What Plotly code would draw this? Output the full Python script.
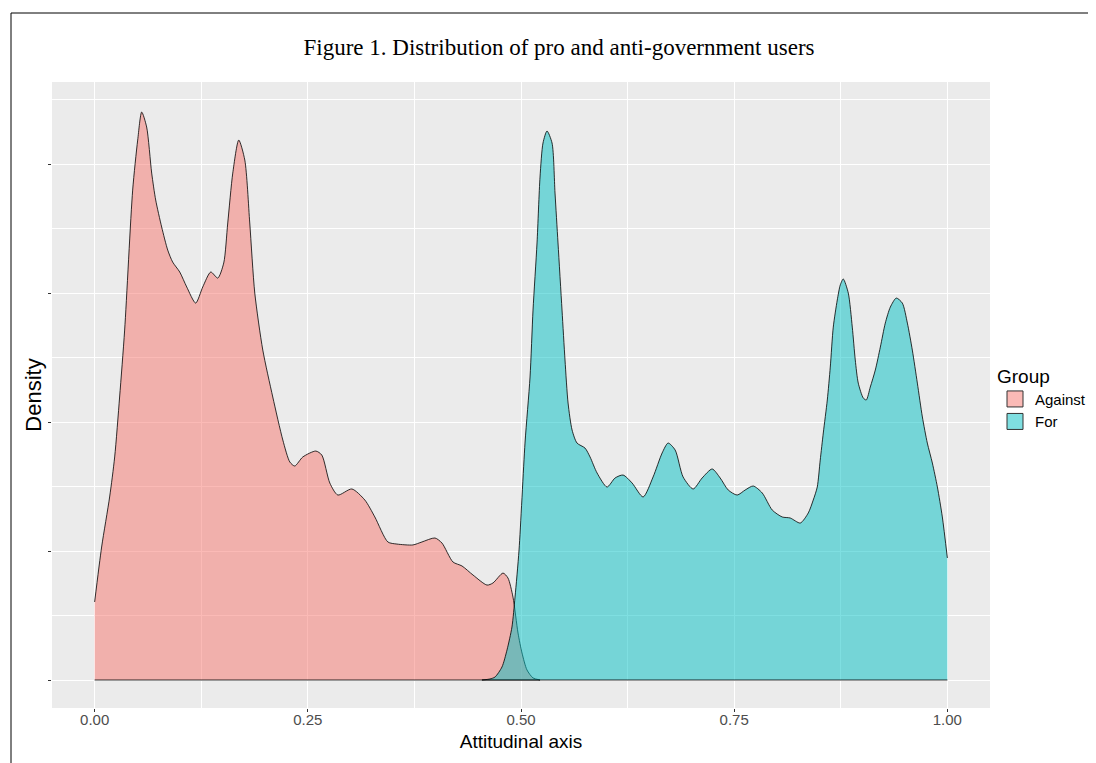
import plotly.graph_objects as go

# Density curves
against_x = [0.000, 0.0082, 0.0176, 0.0235, 0.0293, 0.0352, 0.0446, 0.0505, 0.0552, 0.0610,
             0.0669, 0.0716, 0.0786, 0.0857, 0.0915, 0.0998, 0.1080, 0.1185, 0.1268, 0.1362,
             0.1444, 0.1514, 0.1561, 0.1620, 0.1690, 0.1761, 0.1819, 0.1878, 0.1972, 0.2089,
             0.2207, 0.2289, 0.2347, 0.2441, 0.2594, 0.2664, 0.2758, 0.2852, 0.3016, 0.3169,
             0.3286, 0.3439, 0.3545, 0.3732, 0.3838, 0.3991, 0.4073, 0.4202, 0.4308, 0.4437,
             0.4601, 0.4671, 0.4789, 0.4847, 0.4906, 0.4965, 0.5012, 0.5070, 0.5141, 0.5223]
against_y = [0.605, 1.031, 1.419, 1.729, 2.194, 2.713, 3.798, 4.186, 4.403, 4.287,
             3.930, 3.721, 3.512, 3.333, 3.240, 3.163, 3.047, 2.922, 3.047, 3.163,
             3.116, 3.233, 3.543, 3.930, 4.186, 4.031, 3.543, 3.000, 2.558, 2.194,
             1.860, 1.690, 1.659, 1.729, 1.775, 1.744, 1.527, 1.434, 1.481, 1.395,
             1.264, 1.070, 1.054, 1.047, 1.070, 1.101, 1.062, 0.915, 0.884, 0.814,
             0.736, 0.752, 0.829, 0.791, 0.643, 0.364, 0.209, 0.078, 0.016, 0.000]

for_x = [0.4542, 0.4636, 0.4695, 0.4777, 0.4836, 0.4894, 0.4930, 0.4977, 0.5047, 0.5106,
         0.5141, 0.5188, 0.5223, 0.5258, 0.5305, 0.5364, 0.5399, 0.5434, 0.5481, 0.5516,
         0.5552, 0.5599, 0.5657, 0.5751, 0.5810, 0.5892, 0.6009, 0.6103, 0.6197, 0.6303,
         0.6432, 0.6549, 0.6655, 0.6725, 0.6808, 0.6901, 0.7019, 0.7124, 0.7242, 0.7336,
         0.7430, 0.7535, 0.7629, 0.7723, 0.7829, 0.7946, 0.8063, 0.8157, 0.8275, 0.8369,
         0.8427, 0.8474, 0.8509, 0.8545, 0.8592, 0.8627, 0.8662, 0.8709, 0.8744, 0.8779,
         0.8838, 0.8885, 0.8920, 0.8955, 0.9014, 0.9049, 0.9096, 0.9155, 0.9214, 0.9272,
         0.9331, 0.9401, 0.9472, 0.9531, 0.9589, 0.9648, 0.9707, 0.9765, 0.9824, 0.9883,
         0.9941, 1.0000]
for_y = [0.000, 0.008, 0.023, 0.101, 0.233, 0.411, 0.643, 1.008, 1.837, 2.349,
         2.868, 3.388, 3.899, 4.163, 4.256, 4.163, 3.775, 3.388, 2.868, 2.481,
         2.147, 1.938, 1.837, 1.798, 1.729, 1.605, 1.496, 1.566, 1.589, 1.527,
         1.419, 1.574, 1.760, 1.837, 1.783, 1.574, 1.481, 1.566, 1.636, 1.566,
         1.473, 1.434, 1.473, 1.504, 1.450, 1.318, 1.264, 1.256, 1.217, 1.295,
         1.395, 1.496, 1.705, 1.915, 2.171, 2.426, 2.736, 2.946, 3.062, 3.109,
         3.000, 2.736, 2.481, 2.302, 2.186, 2.171, 2.271, 2.403, 2.581, 2.767,
         2.891, 2.961, 2.922, 2.767, 2.558, 2.302, 2.039, 1.837, 1.682, 1.496,
         1.264, 0.946]

groups = ["Against", "For"]
x_ticks = [0.0, 0.25, 0.5, 0.75, 1.0]
x_tick_labels = ["0.00", "0.25", "0.50", "0.75", "1.00"]
y_ticks = [0, 1, 2, 3, 4]

fills = ["rgba(248,118,109,0.5)", "rgba(0,191,196,0.5)"]

fig = go.Figure()
for name, xs, ys, fc in [(groups[0], against_x, against_y, fills[0]),
                         (groups[1], for_x, for_y, fills[1])]:
    fig.add_trace(go.Scatter(
        x=xs, y=ys, mode="lines", fill="tozeroy", fillcolor=fc,
        line=dict(color="black", width=0.8, shape="spline", smoothing=0.7),
        name=name, showlegend=False, hoverinfo="skip"))
    fig.add_trace(go.Scatter(
        x=[xs[0], xs[-1]], y=[0, 0], mode="lines",
        line=dict(color="black", width=0.8), showlegend=False, hoverinfo="skip"))

# legend-only square keys
for name, fc in zip(groups, fills):
    fig.add_trace(go.Scatter(
        x=[None], y=[None], mode="markers", name=name,
        marker=dict(symbol="square", size=18, color=fc,
                    line=dict(color="#333333", width=1))))

# The page places the figure 8 px in from the top-left corner (body margin);
# the figure is made wider than the window so the legend never pushes the margin.
OFF = 8
W, H = 1200, 755
ml, mt, mb = 44, 74, 55
pw = 938
mr = W - ml - pw
ph = H - mt - mb

def px(xs):  # screen x -> paper
    return (xs - OFF - ml) / pw

def py(ys):  # screen y -> paper
    return (H - mb - (ys - OFF)) / ph

fig.update_layout(
    width=W, height=H,
    margin=dict(l=ml, r=mr, t=mt, b=mb),
    paper_bgcolor="white",
    plot_bgcolor="#EBEBEB",
    title=dict(text="Figure 1. Distribution of pro and anti-government users",
               x=(559 - OFF) / W, xanchor="center", y=1 - (47 - OFF) / H, yanchor="middle",
               font=dict(family="Liberation Serif", size=23, color="black")),
    font=dict(family="Liberation Sans", color="black"),
    xaxis=dict(range=[-0.05, 1.05], tickvals=x_ticks, ticktext=x_tick_labels,
               showgrid=True, gridcolor="white", gridwidth=1.2, zeroline=False,
               ticks="outside", ticklen=3, tickcolor="#333333", tickwidth=1,
               ticklabelstandoff=-5,
               tickfont=dict(family="Liberation Sans", size=15, color="#4D4D4D"),
               title=dict(text="Attitudinal axis", font=dict(size=19, color="black"), standoff=7),
               minor=dict(tick0=0, dtick=0.125, showgrid=True, gridcolor="white", gridwidth=0.5),
               showline=False),
    yaxis=dict(range=[-0.217, 4.636], tickvals=y_ticks, showticklabels=False,
               showgrid=True, gridcolor="white", gridwidth=1.2, zeroline=False,
               ticks="outside", ticklen=3, tickcolor="#333333", tickwidth=1,
               title=dict(text="Density", font=dict(size=22, color="black"), standoff=0),
               minor=dict(tick0=0, dtick=0.5, showgrid=True, gridcolor="white", gridwidth=0.5),
               showline=False),
    legend=dict(title=dict(text="Group", font=dict(size=19)),
                font=dict(size=15), x=px(995), xanchor="left",
                y=py(358), yanchor="top", bgcolor="rgba(0,0,0,0)",
                tracegroupgap=0, itemwidth=30),
    shapes=[
        dict(type="line", xref="paper", yref="paper", x0=px(11), x1=px(1110),
             y0=py(13), y1=py(13), line=dict(color="black", width=1)),
        dict(type="line", xref="paper", yref="paper", x0=px(11), x1=px(11),
             y0=py(13), y1=py(770), line=dict(color="black", width=1)),
    ],
)

fig.write_html("out.html")
